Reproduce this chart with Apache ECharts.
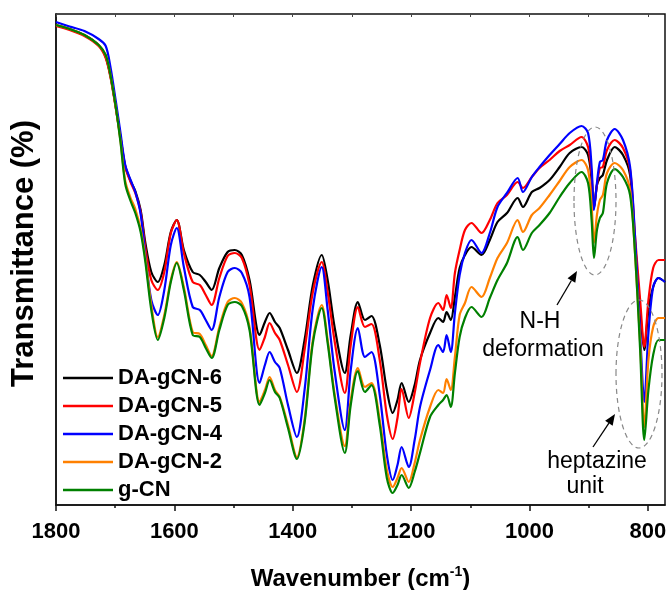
<!DOCTYPE html>
<html><head><meta charset="utf-8">
<script src="https://cdn.jsdelivr.net/npm/echarts@6/dist/echarts.min.js"></script>
<style>html,body{margin:0;padding:0;background:#fff}#c{width:667px;height:590px}</style>
</head><body><div id="c"></div>
<script>
// Wavenumber (cm-1) sample points
const wavenumbers = [1800,1777,1752,1728,1716,1708,1699,1691,1683,1674,1666,1657,1649,1639,1628,1617,1606,1596,1584,1569,1557,1547,1537,1524,1510,1498,1486,1473,1456,1447,1439,1430,1422,1408,1393,1380,1366,1351,1341,1329,1312,1302,1290,1278,1267,1253,1241,1231,1223,1216,1204,1194,1185,1168,1154,1146,1140,1133,1126,1118,1109,1098,1081,1067,1054,1038,1020,1011,996,983,966,949,932,912,901,895,891,886,881,876,869,856,842,830,822,813,806,799,791,782,771];
// Transmittance (arbitrary units) per sample
const daGCN6 = [96,95.2,94,92,89.6,85.8,79.6,73.6,67.8,64.8,62.8,59,52.4,46.6,44.6,48,54.6,57,51,46.6,46,44.6,43,47.4,50.6,51,50,45,34,36.6,38.4,36.6,35.4,31,26.4,33,44,50,45,35.4,26.4,34,40.6,37,37.8,32,23,18.4,21,24.4,20.6,24,29,34.4,37.4,36.6,38.6,37,41.6,47.4,50,51.6,50,53,56.6,58.4,61.4,59.6,62.6,63.4,65,67.6,70.4,71.6,70,65,59.4,64,65.4,66,69,71.6,70,66,53,39,31,39,43.6,45.4,44.6];
const daGCN5 = [95.8,95,93.8,91.8,89.4,85.6,79.4,73.4,67.6,64.6,62.4,58.6,51.4,45,43,46.6,54.4,57,50.4,44.6,44,42,40,45.4,49.8,50.4,49.4,44,31,33.6,36.4,34.4,33,28,22.6,31,42.6,48.6,42.6,32.6,22.4,32,39.6,35.6,36.2,29,18,13.2,17.4,23.2,17.4,22.4,28.4,37.4,40.4,39,42,39.4,46.4,51,55,56.4,54.4,57,60.4,62,64.6,63.4,65.6,67.4,69,70.8,72,73.6,71.6,66,59.6,64,67.4,67.6,71,73,71.4,67,54.4,41,31.6,41,47.4,49,49];
const daGCN4 = [96.6,95.7,94.8,93.2,91.8,87.6,80.8,74.4,68,65,62.6,58.2,50,41,38,43,52,55.4,47.6,39.6,39,37,35,41.6,46.6,47.4,46.4,41.6,24.4,28,30.6,28.6,27.4,20,13.6,23,39.4,47.6,39,26.6,15,27,35.4,29.6,30.6,22,10,5,8,11.6,7.6,13,19.6,27,32,30.6,34,30.6,38.4,46,50.4,53,50.4,54.4,59.6,62.4,65.4,62.6,65.6,67.6,70,72.2,74.4,75.8,74.4,67.6,59,64.4,68.6,69,73,75.2,73,67.6,54.4,34.4,20.6,34.4,43.6,45.4,44.6];
const daGCN2 = [96,95.2,94,92,90,86,79.6,72.8,64.8,61.4,59.2,55.2,49.4,40,33.6,38,45,48.6,43.6,34.6,34.2,32,29.8,35.6,40.6,41.4,40.4,35.6,20.6,23,25.6,23,21.6,16,9.6,17,33,40,33,22,11.8,21,27.4,23.6,24.4,17,7,3.6,5.4,7.4,4.6,8.4,13,19.6,23,22.4,25.2,23,29.6,38,40.4,43.6,41.6,45.4,49.4,52.4,57,54.6,58,59.4,62,64.8,67.6,69,67,60,52.4,58,61,62,66.4,68.4,67,63,51,32.4,15.6,29,35.6,37.4,37.4];
const gCN = [96,95.2,94,92,90,86,79.6,72.6,64.2,60.8,58.4,54.6,48.6,39,33,37.4,44.6,48.4,43,34,33.6,31.4,29.4,35,40,40.6,39.8,35,20,22.4,25,22.6,21.4,15.4,9.2,16.4,32.4,39.4,32.4,21.4,10.4,20,26.8,22.6,24,16,5.4,2.4,4,6,3.4,6.6,10.4,17.6,20,21,22,19.6,26.4,33.6,37.4,39.6,37.6,41.4,45,48.4,53.6,51,54.4,56,58.4,61.6,64.4,66.6,64.4,57,49.4,55,57.4,58.4,64.4,67.2,65.6,62,51,31,13,23,30,33,33];

const seriesNames = ['DA-gCN-6','DA-gCN-5','DA-gCN-4','DA-gCN-2','g-CN'];
const seriesValues = [daGCN6, daGCN5, daGCN4, daGCN2, gCN];
const seriesColors = ['#000000','#ff0000','#0000ff','#ff8000','#008000'];
const majorTicks = [1800,1600,1400,1200,1000,800];
const minorTicks = [1700,1500,1300,1100,900];
const allTicks = [1800,1700,1600,1500,1400,1300,1200,1100,1000,900,800];

const FONT = "'Liberation Sans', Arial, Helvetica, sans-serif";
const chart = echarts.init(document.getElementById('c'), null, {renderer:'canvas'});

function arrow(x1,y1,x2,y2){
  const dx=x2-x1, dy=y2-y1, L=Math.hypot(dx,dy), ux=dx/L, uy=dy/L, px=-uy, py=ux;
  const hl=11, hw=4.5, bx=x2-ux*hl, by=y2-uy*hl;
  return [
    {type:'line', shape:{x1:x1,y1:y1,x2:bx,y2:by}, style:{stroke:'#000', lineWidth:1.3}},
    {type:'polygon', shape:{points:[[x2,y2],[bx+px*hw,by+py*hw],[bx-px*hw,by-py*hw]]}, style:{fill:'#000'}}
  ];
}
function label(t,x,y){
  return {type:'text', style:{text:t, x:x, y:y, fill:'#000', fontSize:23, fontFamily:FONT, align:'center', verticalAlign:'middle', textAlign:'center', textVerticalAlign:'middle'}};
}

const option = {
  animation:false,
  backgroundColor:'#fff',
  grid:{left:56, top:14, right:2, bottom:85, containLabel:false, outerBoundsMode:'none', show:true, borderColor:'#111', borderWidth:1.5, backgroundColor:'transparent'},
  xAxis:[
    {type:'value', inverse:true, min:771, max:1800, position:'bottom',
     axisLine:{show:true, onZero:false, lineStyle:{color:'#111', width:1.5}},
     axisTick:{show:true, customValues:majorTicks, length:6, lineStyle:{color:'#111', width:1.5}},
     axisLabel:{show:true, customValues:majorTicks, formatter:v=>String(v), margin:16, fontSize:22, fontWeight:'bold', color:'#000', fontFamily:FONT},
     splitLine:{show:false},
     name:'{a|Wavenumber (cm}{s|-1}{a|)}', nameLocation:'middle', nameGap:60,
     nameTextStyle:{rich:{a:{fontSize:24, fontWeight:'bold', color:'#000', fontFamily:FONT}, s:{fontSize:14, fontWeight:'bold', color:'#000', fontFamily:FONT, padding:[0,0,14,0]}}}
    },
    {type:'value', inverse:true, min:771, max:1800, position:'bottom',
     axisLine:{show:false}, axisLabel:{show:false}, splitLine:{show:false},
     axisTick:{show:true, customValues:minorTicks, length:3, lineStyle:{color:'#111', width:1.5}}},
    {type:'value', inverse:true, min:771, max:1800, position:'top',
     axisLine:{show:false}, axisLabel:{show:false}, splitLine:{show:false},
     axisTick:{show:true, inside:true, customValues:allTicks, length:3, lineStyle:{color:'#444', width:1}}}
  ],
  yAxis:{type:'value', min:0, max:98.2,
    axisLine:{show:true, lineStyle:{color:'#111', width:1.5}},
    axisTick:{show:false}, axisLabel:{show:false}, splitLine:{show:false},
    name:'Transmittance (%)', nameLocation:'middle', nameGap:16,
    nameTextStyle:{fontSize:31, fontWeight:'bold', color:'#000', fontFamily:FONT, padding:[0,0,0,12]}
  },
  legend:{
    orient:'vertical', left:58, top:362, itemWidth:50, itemHeight:2.5, itemGap:6, icon:'rect',
    data:seriesNames,
    textStyle:{fontSize:22, fontWeight:'bold', color:'#000', fontFamily:FONT}
  },
  series: seriesNames.map((n,i)=>({
    name:n, type:'line', xAxisIndex:0, symbol:'none', smooth:0.3,
    lineStyle:{width:2.2, color:seriesColors[i]}, itemStyle:{color:seriesColors[i]},
    data: wavenumbers.map((w,j)=>[w, seriesValues[i][j]])
  })),
  graphic:[
    {type:'ellipse', shape:{cx:595, cy:201, rx:21, ry:74}, style:{fill:null, stroke:'#888', lineWidth:1.2, lineDash:[5,4]}, z:100},
    {type:'ellipse', shape:{cx:639, cy:374, rx:23, ry:74}, style:{fill:null, stroke:'#888', lineWidth:1.2, lineDash:[5,4]}, z:100},
    ...arrow(557,305,577,271),
    ...arrow(593,447,615,414),
    label('N-H',540,322),
    label('deformation',543,350),
    label('heptazine',597,462),
    label('unit',585,487)
  ]
};
chart.setOption(option);
</script></body></html>
